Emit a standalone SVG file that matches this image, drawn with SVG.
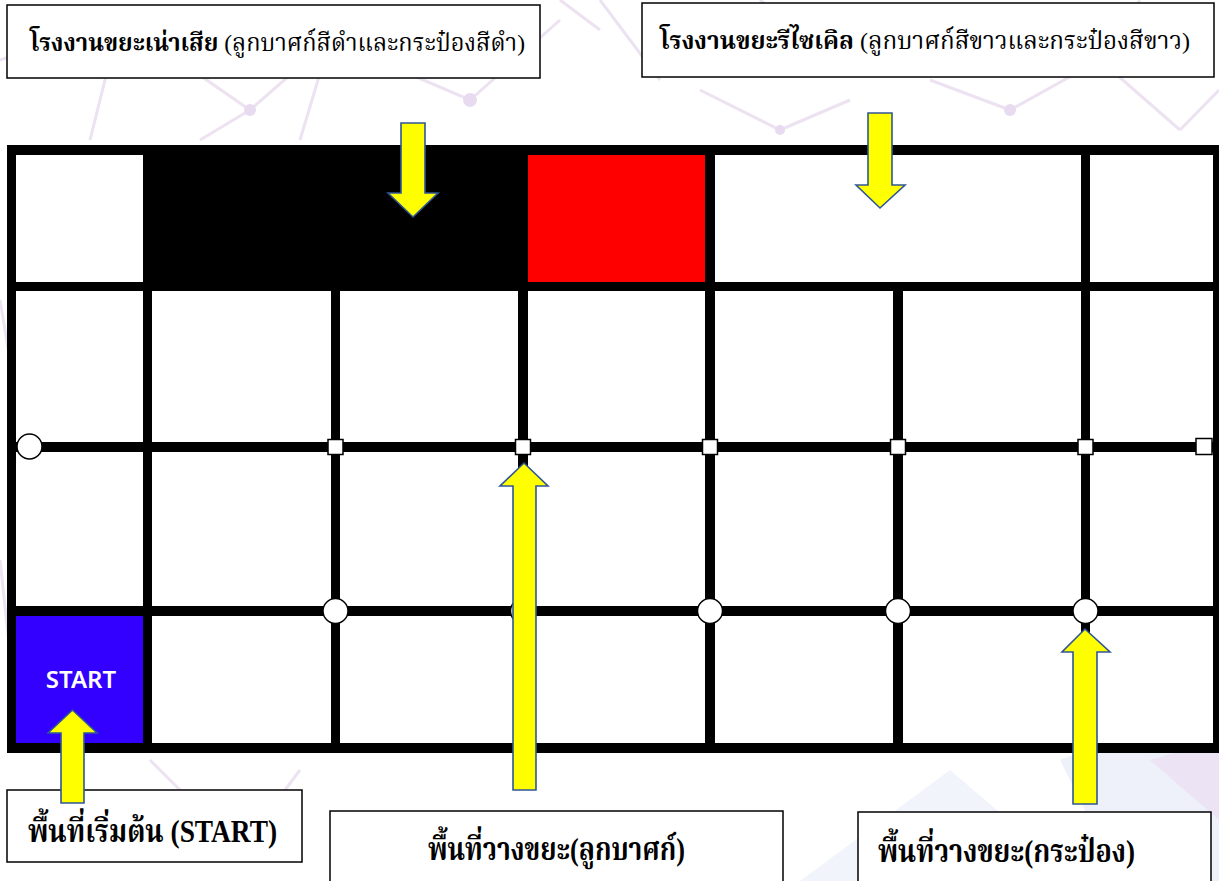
<svg xmlns="http://www.w3.org/2000/svg" width="1219" height="881" viewBox="0 0 1219 881">
<style>
.bgl{stroke:#ece2f1;stroke-width:3;fill:none}
.bgd{fill:#e8dbef}
.ln{fill:#000}
.node{fill:#fff;stroke:#000;stroke-width:1.5}
.box{fill:#fff;stroke:#000;stroke-width:1.5}
.arrow{fill:#ffff00;stroke:#2f5597;stroke-width:1.6;stroke-linejoin:miter}
.th{font-family:"Liberation Serif","Noto Serif Thai","Noto Sans Thai",serif;fill:#000}
.b{font-weight:bold}
.r{font-weight:normal}
.st{font-family:"Noto Sans","Open Sans",sans-serif;font-weight:600;fill:#fff;font-size:24px}
</style>
<rect width="1219" height="881" fill="#fff"/>
<g id="background">
<path class="bgl" d="M0 60 L120 20 L250 110 L330 40 L470 100 L560 20 M330 40 L300 140 M120 20 L90 140 M250 110 L200 140 M600 0 L660 80 M700 90 L780 130 L850 100 M760 0 L840 60 M930 80 L1010 110 L1100 60 L1180 130 M1100 60 L1140 0 M1180 130 L1219 90 M0 300 L20 420 M0 560 L15 700 M150 760 L240 850 L300 770 M560 0 L600 30"/>
<circle class="bgd" cx="120" cy="20" r="6"/><circle class="bgd" cx="250" cy="110" r="6"/><circle class="bgd" cx="330" cy="40" r="5"/><circle class="bgd" cx="470" cy="100" r="7"/><circle class="bgd" cx="780" cy="130" r="5"/><circle class="bgd" cx="1010" cy="110" r="6"/><circle class="bgd" cx="1100" cy="60" r="5"/><circle class="bgd" cx="240" cy="850" r="5"/>
<polygon points="800,881 950,770 1080,881" fill="#f1f5fb"/>
<polygon points="1060,760 1219,700 1219,881 1120,881" fill="#eef0fa"/>
<polygon points="1150,760 1219,740 1219,820" fill="#ece4f4"/>
</g>
<g id="grid">
<rect x="7" y="145" width="1212" height="608" fill="#fff"/>
<rect id="black-zone" x="143" y="145" width="385" height="146" fill="#000"/>
<rect id="red-zone" x="528" y="155" width="177" height="127" fill="#ff0000"/>
<rect id="start-zone" x="16" y="616" width="127" height="127" fill="#3300ff"/>
<rect class="ln" x="7" y="145" width="1212" height="10"/>
<rect class="ln" x="7" y="282" width="1212" height="9"/>
<rect class="ln" x="7" y="442" width="1212" height="10"/>
<rect class="ln" x="7" y="606" width="1212" height="10"/>
<rect class="ln" x="7" y="743" width="1212" height="10"/>
<rect class="ln" x="7" y="145" width="9" height="608"/>
<rect class="ln" x="143" y="145" width="9" height="608"/>
<rect class="ln" x="705" y="145" width="10" height="608"/>
<rect class="ln" x="1081" y="145" width="9" height="608"/>
<rect class="ln" x="1213" y="145" width="6" height="608"/>
<rect class="ln" x="331" y="282" width="9" height="471"/>
<rect class="ln" x="518" y="282" width="10" height="471"/>
<rect class="ln" x="893" y="282" width="10" height="471"/>
<text class="st" x="81" y="688" text-anchor="middle">START</text>
</g>
<g id="markers">
<circle class="node" cx="29.5" cy="446.5" r="12.5"/>
<circle class="node" cx="335.5" cy="611" r="12.5"/>
<circle class="node" cx="523" cy="611" r="12.5"/>
<circle class="node" cx="710" cy="611" r="12.5"/>
<circle class="node" cx="898" cy="611" r="12.5"/>
<circle class="node" cx="1085.5" cy="611" r="12.5"/>
<rect class="node" x="328" y="439.5" width="15" height="15"/>
<rect class="node" x="515.5" y="439.5" width="15" height="15"/>
<rect class="node" x="702.5" y="439.5" width="15" height="15"/>
<rect class="node" x="890.5" y="439.5" width="15" height="15"/>
<rect class="node" x="1078" y="439.5" width="15" height="15"/>
<rect class="node" x="1196" y="438.5" width="16" height="16"/>
</g>
<g id="label-waste-plant">
<rect class="box" x="7" y="5" width="533" height="73"/>
<text class="th" x="30" y="51" font-size="24" textLength="495" lengthAdjust="spacingAndGlyphs"><tspan class="b">โรงงานขยะเน่าเสีย</tspan><tspan class="r"> (ลูกบาศก์สีดำและกระป๋องสีดำ)</tspan></text>
</g>
<g id="label-recycle-plant">
<rect class="box" x="642" y="3" width="572" height="74"/>
<text class="th" x="660" y="49" font-size="24" textLength="530" lengthAdjust="spacingAndGlyphs"><tspan class="b">โรงงานขยะรีไซเคิล</tspan><tspan class="r"> (ลูกบาศก์สีขาวและกระป๋องสีขาว)</tspan></text>
</g>
<g id="label-start">
<rect class="box" x="7" y="790" width="295" height="72"/>
<text class="th b" x="28" y="842" font-size="32" textLength="249" lengthAdjust="spacingAndGlyphs">พื้นที่เริ่มต้น (START)</text>
</g>
<g id="label-cube-area">
<rect class="box" x="330" y="811" width="453" height="80"/>
<text class="th b" x="428" y="860" font-size="32" textLength="257" lengthAdjust="spacingAndGlyphs">พื้นที่วางขยะ(ลูกบาศก์)</text>
</g>
<g id="label-can-area">
<rect class="box" x="858" y="812" width="353" height="80"/>
<text class="th b" x="878" y="862" font-size="32" textLength="257" lengthAdjust="spacingAndGlyphs">พื้นที่วางขยะ(กระป๋อง)</text>
</g>
<g id="connectors">
<path class="arrow" d="M401 123 H425 V193 H438 L413 217 L388 193 H401 Z"/>
<path class="arrow" d="M868 113 H892 V185 H905 L880 208 L856 185 H868 Z"/>
<path class="arrow" d="M61 803 V733 H48 L72.5 710 L97 733 H84 V803 Z"/>
<path class="arrow" d="M513 790 V486 H500 L524 463 L548 486 H536 V790 Z"/>
<path class="arrow" d="M1073 804 V652 H1062 L1085 629 L1110 652 H1097 V804 Z"/>
</g>
</svg>
